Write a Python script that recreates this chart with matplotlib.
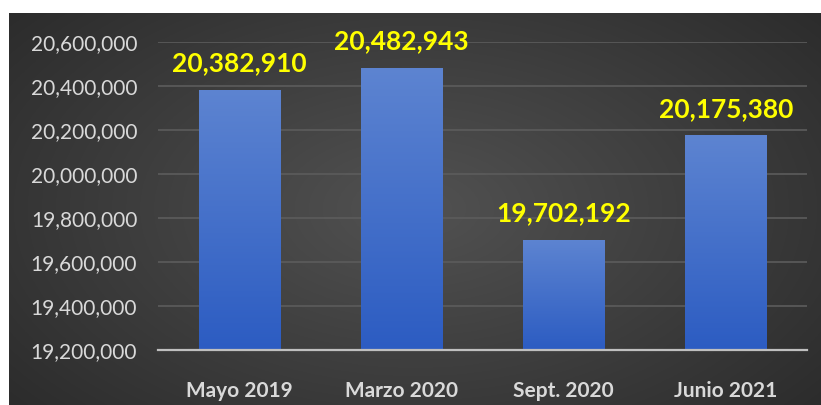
import numpy as np
import matplotlib
matplotlib.use("Agg")
import matplotlib.pyplot as plt
from matplotlib.colors import LinearSegmentedColormap
from matplotlib.ticker import FuncFormatter

categories = ["Mayo 2019", "Marzo 2020", "Sept. 2020", "Junio 2021"]
values = [20382910, 20482943, 19702192, 20175380]
y_ticks = [19200000, 19400000, 19600000, 19800000, 20000000, 20200000, 20400000, 20600000]

plt.rcParams["font.family"] = ["Lato", "DejaVu Sans"]

W, H = 821, 405
fig = plt.figure(figsize=(W / 100, H / 100), dpi=100)
fig.patch.set_facecolor("white")

# dark panel with a soft radial glow
bg = fig.add_axes([9 / W, 0, (W - 9) / W, (H - 13) / H])
bg.set_axis_off()
yy, xx = np.mgrid[0:1:300j, 0:1:600j]
r = np.sqrt(((xx - 0.5) / 0.75) ** 2 + ((yy - 0.5) / 0.9) ** 2)
glow = np.clip(1 - r, 0, 1)
shade = 0.15 + 0.17 * glow
bg.imshow(np.dstack([shade, shade, shade]), extent=[0, 1, 0, 1], aspect="auto")
bg.set_xlim(0, 1)
bg.set_ylim(0, 1)

ax = fig.add_axes([158 / W, 1 - 350 / H, (807 - 158) / W, (350 - 42) / H])
ax.patch.set_alpha(0)
x = np.arange(len(categories))
bars = ax.bar(x, values, width=0.5, color="none", zorder=3)

cmap = LinearSegmentedColormap.from_list("barfill", ["#2c5cc2", "#5d84d1"])
grad = np.linspace(0, 1, 256).reshape(-1, 1)
for b in bars:
    x0, w, h = b.get_x(), b.get_width(), b.get_height()
    im = ax.imshow(grad, cmap=cmap, origin="lower", aspect="auto",
                   extent=[x0, x0 + w, 19200000, h], zorder=3)
    im.set_clip_path(b)

ax.set_xlim(-0.5, len(categories) - 0.5)
ax.set_ylim(19200000, 20600000)
ax.set_yticks(y_ticks)
ax.yaxis.set_major_formatter(FuncFormatter(lambda v, p: f"{int(v):,}"))
ax.grid(axis="y", color="#5c5c5c", linewidth=1.2, zorder=1)
ax.set_axisbelow(True)
for s in ["top", "right", "left"]:
    ax.spines[s].set_visible(False)
ax.spines["bottom"].set_color("#bfbfbf")
ax.spines["bottom"].set_linewidth(1.6)
ax.spines["bottom"].set_zorder(4)
ax.tick_params(axis="both", length=0)
ax.tick_params(axis="y", pad=15, labelsize=15, labelcolor="#d9d9d9")
ax.tick_params(axis="x", pad=22, labelsize=15, labelcolor="#d9d9d9")
ax.set_xticks(x)
ax.set_xticklabels(categories, fontweight="bold")

for xi, v in zip(x, values):
    ax.annotate(f"{v:,}", (xi, v), xytext=(0, 13.5), textcoords="offset points",
                ha="center", va="baseline", color="#ffff00", fontsize=19,
                fontweight="bold", zorder=5)

fig.savefig("out.png", dpi=100, facecolor=fig.get_facecolor())
